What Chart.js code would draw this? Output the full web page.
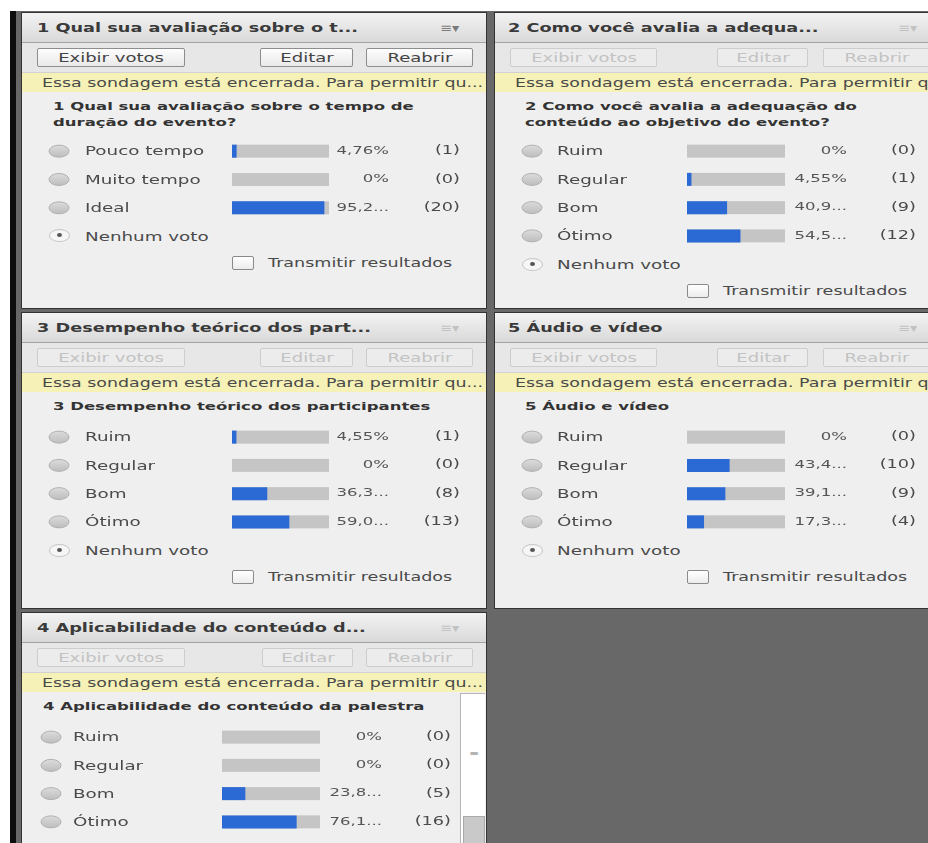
<!DOCTYPE html>
<html lang="pt-BR">
<head>
<meta charset="utf-8">
<title>Sondagens</title>
<script src="https://cdn.jsdelivr.net/npm/chart.js@4.4.1/dist/chart.umd.min.js"></script>
<style>
  html, body { margin: 0; padding: 0; }
  body { width: 928px; height: 843px; overflow: hidden; position: relative; background: #fff; font-family: "DejaVu Sans", Verdana, sans-serif; }
  #frame { position: absolute; left: 10px; top: 11px; width: 918px; height: 832px; background: #686868; border-left: 6px solid #0d0d0d; box-sizing: border-box; }
  .pod { position: absolute; border: 1px solid #333; background: #efefef; overflow: hidden; }
  .bar-title { position: absolute; left: 0; right: 0; top: 0; height: 29px; background: linear-gradient(#f3f3f3, #d9d9d9); border-bottom: 1px solid #a3a3a3; }
  .bar-btns { position: absolute; left: 0; right: 0; top: 30px; height: 29px; background: #e7e7e7; border-bottom: 1px solid #d2d2d2; }
  .bar-note { position: absolute; left: 0; right: 0; top: 60px; height: 19px; background: #f5f1b7; }
  .t { position: absolute; white-space: nowrap; line-height: 16px; height: 16px; transform: scaleX(1.5); transform-origin: 0 50%; color: #474747; }
  .title { font-size: 11.8px; font-weight: bold; color: #3a3a3a; }
  .question { font-size: 11px; font-weight: bold; color: #333; }
  .note { font-size: 11.6px; color: #4a4a4a; }
  .label { font-size: 12.2px; color: #4a4a4a; }
  .menu { font-size: 12px; color: #7a7a7a; }
  .menu.off { color: #c2c2c2; }
  .btn { position: absolute; top: 35px; height: 17px; border: 1px solid #8d8d8d; border-radius: 2px; background: linear-gradient(#fdfdfd, #e9e9e9); }
  .btn span { position: absolute; left: 50%; top: 50%; white-space: nowrap; font-size: 12px; line-height: 16px; color: #444; transform: translate(-50%, -50%) scaleX(1.5); }
  .btn.off { border-color: #cdcdcd; background: #ececec; }
  .btn.off span { color: #c3c3c3; }
  .radio { position: absolute; width: 19px; height: 11px; border: 1px solid #c4c4c4; border-radius: 50%; background: #f6f6f6; }
  .radio::after { content: ""; position: absolute; left: 7px; top: 3px; width: 5px; height: 4px; border-radius: 50%; background: #555; }
  .check { position: absolute; width: 20px; height: 12px; border: 1px solid #8a8a8a; border-radius: 2px; background: linear-gradient(#fff, #ececec); }
  .scroll { position: absolute; top: 80px; bottom: 0; width: 24px; background: #fff; border-left: 1px solid #b5b5b5; border-top: 1px solid #b5b5b5; }
  .thumb { position: absolute; left: 2px; right: 0; bottom: 0; background: #c9c9c9; border: 1px solid #a9a9a9; }
</style>
</head>
<body>
<div id="frame"></div>
<script>
// Sondagem 1
const q1Title = '1 Qual sua avaliação sobre o t...';
const q1Question = ['1 Qual sua avaliação sobre o tempo de', 'duração do evento?'];
const q1Options = ['Pouco tempo', 'Muito tempo', 'Ideal'];
const q1Percent = [4.76, 0, 95.24];
const q1Votes = [1, 0, 20];

// Sondagem 2
const q2Title = '2 Como você avalia a adequa...';
const q2Question = ['2 Como você avalia a adequação do', 'conteúdo ao objetivo do evento?'];
const q2Options = ['Ruim', 'Regular', 'Bom', 'Ótimo'];
const q2Percent = [0, 4.55, 40.91, 54.55];
const q2Votes = [0, 1, 9, 12];

// Sondagem 3
const q3Title = '3 Desempenho teórico dos part...';
const q3Question = ['3 Desempenho teórico dos participantes'];
const q3Options = ['Ruim', 'Regular', 'Bom', 'Ótimo'];
const q3Percent = [4.55, 0, 36.36, 59.09];
const q3Votes = [1, 0, 8, 13];

// Sondagem 4
const q4Title = '4 Aplicabilidade do conteúdo d...';
const q4Question = ['4 Aplicabilidade do conteúdo da palestra'];
const q4Options = ['Ruim', 'Regular', 'Bom', 'Ótimo'];
const q4Percent = [0, 0, 23.81, 76.19];
const q4Votes = [0, 0, 5, 16];

// Sondagem 5
const q5Title = '5 Áudio e vídeo';
const q5Question = ['5 Áudio e vídeo'];
const q5Options = ['Ruim', 'Regular', 'Bom', 'Ótimo'];
const q5Percent = [0, 43.48, 39.13, 17.39];
const q5Votes = [0, 10, 9, 4];

const noteText = 'Essa sondagem está encerrada. Para permitir qu...';
const SX = 1.5;
const ROW = 28.3;

// posição de cada pod e das colunas (relativas ao pod)
const pods = [
  { title: q1Title, question: q1Question, options: q1Options, percent: q1Percent, votes: q1Votes,
    x: 22, y: 13, w: 464, h: 295, active: true, titleX: 15, qX: 31, radio: 37, label: 63, barL: 210, barR: 307, pctR: 367, cntR: 438, btn: [[15, 148], [238, 93], [344, 107]] },
  { title: q2Title, question: q2Question, options: q2Options, percent: q2Percent, votes: q2Votes,
    x: 495, y: 13, w: 449, h: 295, titleX: 13, qX: 30, radio: 37, label: 62, barL: 192, barR: 290, pctR: 352, cntR: 421, btn: [[15, 147], [222, 91], [328, 107]] },
  { title: q3Title, question: q3Question, options: q3Options, percent: q3Percent, votes: q3Votes,
    x: 22, y: 313, w: 464, h: 295, titleX: 15, qX: 31, radio: 37, label: 63, barL: 210, barR: 307, pctR: 367, cntR: 438, btn: [[15, 148], [238, 93], [344, 107]] },
  { title: q5Title, question: q5Question, options: q5Options, percent: q5Percent, votes: q5Votes,
    x: 495, y: 313, w: 449, h: 295, titleX: 13, qX: 30, radio: 37, label: 62, barL: 192, barR: 290, pctR: 352, cntR: 421, btn: [[15, 147], [222, 91], [328, 107]] },
  { title: q4Title, question: q4Question, options: q4Options, percent: q4Percent, votes: q4Votes,
    x: 22, y: 613, w: 464, h: 240, titleX: 15, qX: 21, radio: 29, label: 51, barL: 200, barR: 298, pctR: 360, cntR: 429, btn: [[15, 148], [240, 91], [344, 107]], scroll: 438 }
];

function pctLabel(v) {
  if (v === 0) return '0%';
  const s = v.toFixed(2).replace('.', ',');
  return s.length > 4 ? s.slice(0, 4) + '...' : s + '%';
}

function addText(parent, s, x, cy, cls) {
  const el = document.createElement('div');
  el.className = 't ' + cls;
  el.textContent = s;
  el.style.left = x + 'px';
  el.style.top = (cy - 8) + 'px';
  parent.appendChild(el);
  return el;
}

function addBox(parent, cls, css) {
  const el = document.createElement('div');
  el.className = cls;
  Object.assign(el.style, css);
  parent.appendChild(el);
  return el;
}

function sText(ctx, s, x, y, align) {
  ctx.save();
  ctx.translate(x, y);
  ctx.scale(SX, 1);
  ctx.textAlign = align;
  ctx.textBaseline = 'middle';
  ctx.fillText(s, 0, 0);
  ctx.restore();
}

// trilho cinza, botão de rádio, rótulo, % e votos de cada opção
const pollPlugin = {
  id: 'poll',
  beforeDatasetsDraw(chart, args, opts) {
    const ctx = chart.ctx;
    const xs = chart.scales.x;
    ctx.fillStyle = '#c5c5c5';
    chart.getDatasetMeta(0).data.forEach(bar => {
      ctx.fillRect(xs.getPixelForValue(0), bar.y - 6.5, xs.getPixelForValue(100) - xs.getPixelForValue(0), 13);
    });
  },
  afterDatasetsDraw(chart, args, opts) {
    const ctx = chart.ctx;
    const ds = chart.data.datasets[0];
    chart.getDatasetMeta(0).data.forEach((bar, i) => {
      const y = bar.y;
      const g = ctx.createLinearGradient(0, y - 6, 0, y + 6);
      g.addColorStop(0, '#dcdcdc');
      g.addColorStop(1, '#bdbdbd');
      ctx.beginPath();
      ctx.ellipse(opts.radio, y, 10, 6, 0, 0, Math.PI * 2);
      ctx.fillStyle = g;
      ctx.fill();
      ctx.strokeStyle = '#b0b0b0';
      ctx.lineWidth = 1;
      ctx.stroke();

      ctx.fillStyle = '#4a4a4a';
      ctx.font = '12.2px "DejaVu Sans"';
      sText(ctx, chart.data.labels[i], opts.label, y + 1, 'left');
      ctx.fillStyle = '#555';
      ctx.font = '11px "DejaVu Sans"';
      sText(ctx, pctLabel(ds.data[i]), opts.pctR, y, 'right');
      ctx.fillStyle = '#4a4a4a';
      ctx.font = '11.8px "DejaVu Sans"';
      sText(ctx, '(' + opts.votes[i] + ')', opts.cntR, y, 'right');
    });
  }
};

const frame = document.body;
pods.forEach(p => {
  const pod = addBox(frame, 'pod', { left: (p.x - 1) + 'px', top: (p.y - 1) + 'px', width: p.w + 'px', height: p.h + 'px' });

  const tb = addBox(pod, 'bar-title', {});
  addText(tb, p.title, p.titleX, 15, 'title');
  addText(tb, '≡▾', p.w - 46, 15, 'menu' + (p.active ? '' : ' off')).style.transform = 'scaleX(1.2)';

  const bb = addBox(pod, 'bar-btns', {});
  ['Exibir votos', 'Editar', 'Reabrir'].forEach((s, i) => {
    const b = addBox(pod, 'btn' + (p.active ? '' : ' off'), { left: p.btn[i][0] + 'px', width: (p.btn[i][1] - 2) + 'px' });
    const sp = document.createElement('span');
    sp.textContent = s;
    b.appendChild(sp);
  });

  const nb = addBox(pod, 'bar-note', {});
  addText(nb, noteText, 20, 10, 'note');

  p.question.forEach((line, i) => addText(pod, line, p.qX, 94 + i * 16, 'question'));

  const firstRow = 124 + 14 * (p.question.length - 1);
  const n = p.options.length;

  const cv = document.createElement('canvas');
  cv.width = p.w;
  cv.height = Math.round(n * ROW);
  Object.assign(cv.style, { position: 'absolute', left: '0px', top: (firstRow - ROW / 2) + 'px' });
  pod.appendChild(cv);

  new Chart(cv, {
    type: 'bar',
    data: {
      labels: p.options,
      datasets: [{ data: p.percent, backgroundColor: '#2b6ad5', borderWidth: 0, inflateAmount: 0, barThickness: 13 }]
    },
    options: {
      indexAxis: 'y',
      responsive: false,
      animation: false,
      layout: { padding: { left: p.barL, right: p.w - p.barR, top: 0, bottom: 0 } },
      scales: {
        x: { min: 0, max: 100, display: false },
        y: { display: false }
      },
      plugins: {
        legend: { display: false },
        tooltip: { enabled: false },
        poll: { radio: p.radio, label: p.label, pctR: p.pctR, cntR: p.cntR, votes: p.votes }
      }
    },
    plugins: [pollPlugin]
  });

  const noneY = firstRow + n * ROW;
  addBox(pod, 'radio', { left: (p.radio - 10) + 'px', top: (noneY - 6.5) + 'px' });
  addText(pod, 'Nenhum voto', p.label, noneY + 1, 'label');

  const trY = noneY + 27;
  addBox(pod, 'check', { left: p.barL + 'px', top: (trY - 7) + 'px' });
  addText(pod, 'Transmitir resultados', p.barL + 36, trY, 'label').style.fontSize = '11.7px';

  if (p.scroll) {
    const sc = addBox(pod, 'scroll', { left: p.scroll + 'px' });
    addText(sc, '≡', 8, 60, 'menu').style.fontSize = '8px';
    addBox(sc, 'thumb', { top: '122px' });
  }
});
</script>
</body>
</html>
